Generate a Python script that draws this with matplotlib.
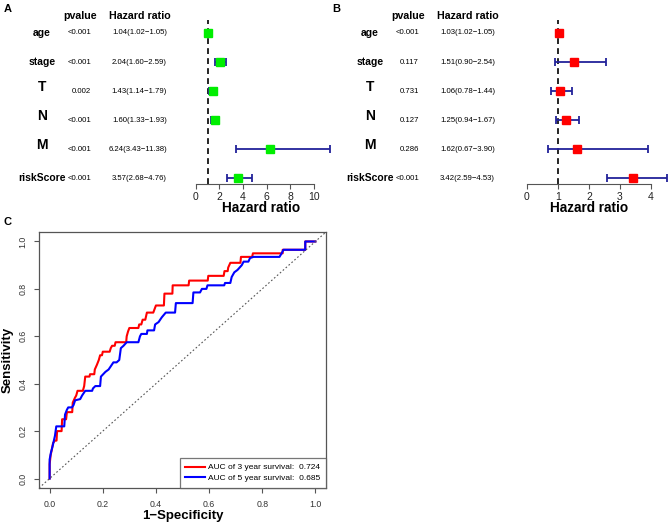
import matplotlib
matplotlib.use('Agg')
import matplotlib.pyplot as plt
import matplotlib.transforms as mtransforms

plt.rcParams['font.family'] = ['Liberation Sans', 'DejaVu Sans']

W, H = 669, 531

# forest plot data
variables = ['age', 'stage', 'T', 'N', 'M', 'riskScore']
pval_a = ['<0.001', '<0.001', '0.002', '<0.001', '<0.001', '<0.001']
hr_a = [1.04, 2.04, 1.43, 1.60, 6.24, 3.57]
lo_a = [1.02, 1.60, 1.14, 1.33, 3.43, 2.68]
hi_a = [1.05, 2.59, 1.79, 1.93, 11.38, 4.76]

pval_b = ['<0.001', '0.117', '0.731', '0.127', '0.286', '<0.001']
hr_b = [1.03, 1.51, 1.06, 1.25, 1.62, 3.42]
lo_b = [1.02, 0.90, 0.78, 0.94, 0.67, 2.59]
hi_b = [1.05, 2.54, 1.44, 1.67, 3.90, 4.53]

ticks_a = [0, 2, 4, 6, 8, 10]
ticks_b = [0, 1, 2, 3, 4]

# ROC curves (1-specificity, sensitivity)
roc3_x = [0, 0, 0.004, 0.008, 0.013, 0.02, 0.026, 0.028, 0.045, 0.047, 0.062, 0.065, 0.085, 0.087,
          0.095, 0.1, 0.105, 0.125, 0.13, 0.134, 0.15, 0.152, 0.168, 0.17, 0.178, 0.185, 0.19, 0.197,
          0.2, 0.226, 0.23, 0.235, 0.245, 0.248, 0.288, 0.29, 0.295, 0.3, 0.334, 0.337, 0.345, 0.35,
          0.36, 0.366, 0.39, 0.395, 0.4, 0.43, 0.432, 0.462, 0.463, 0.523, 0.525, 0.595, 0.597, 0.655,
          0.658, 0.67, 0.672, 0.68, 0.718, 0.72, 0.762, 0.765, 0.877, 0.877, 0.962, 0.962, 1.0]
roc3_y = [0, 0.06, 0.1, 0.12, 0.15, 0.16, 0.16, 0.2, 0.2, 0.25, 0.25, 0.28, 0.28, 0.32,
          0.34, 0.35, 0.37, 0.37, 0.39, 0.43, 0.43, 0.44, 0.44, 0.46, 0.48, 0.5, 0.52, 0.52,
          0.535, 0.535, 0.55, 0.56, 0.56, 0.575, 0.575, 0.6, 0.62, 0.635, 0.635, 0.65, 0.65, 0.67,
          0.67, 0.7, 0.7, 0.715, 0.73, 0.73, 0.78, 0.78, 0.815, 0.815, 0.835, 0.835, 0.855, 0.855,
          0.875, 0.875, 0.89, 0.91, 0.91, 0.935, 0.935, 0.95, 0.95, 0.965, 0.965, 1.0, 1.0]

roc5_x = [0, 0, 0.005, 0.012, 0.02, 0.025, 0.055, 0.058, 0.065, 0.07, 0.084, 0.09, 0.096, 0.115,
          0.122, 0.128, 0.134, 0.16, 0.163, 0.172, 0.19, 0.193, 0.21, 0.222, 0.234, 0.24, 0.252,
          0.262, 0.268, 0.278, 0.29, 0.334, 0.34, 0.345, 0.366, 0.368, 0.393, 0.397, 0.41, 0.422,
          0.437, 0.472, 0.475, 0.538, 0.541, 0.566, 0.573, 0.59, 0.594, 0.657, 0.66, 0.68, 0.685,
          0.695, 0.707, 0.723, 0.73, 0.748, 0.754, 0.767, 0.865, 0.873, 0.88, 0.962, 0.962, 1.0]
roc5_y = [0, 0.08, 0.11, 0.14, 0.18, 0.22, 0.22, 0.27, 0.29, 0.3, 0.3, 0.31, 0.33, 0.335,
          0.35, 0.36, 0.37, 0.37, 0.38, 0.39, 0.39, 0.43, 0.45, 0.46, 0.48, 0.49, 0.49,
          0.5, 0.55, 0.56, 0.575, 0.575, 0.6, 0.61, 0.61, 0.625, 0.625, 0.65, 0.66, 0.68,
          0.7, 0.7, 0.74, 0.74, 0.785, 0.785, 0.8, 0.8, 0.815, 0.815, 0.825, 0.825, 0.85,
          0.87, 0.88, 0.9, 0.915, 0.915, 0.93, 0.935, 0.935, 0.95, 0.965, 0.965, 1.0, 1.0]

auc3, auc5 = 0.724, 0.685

fig = plt.figure(figsize=(W / 100, H / 100), dpi=100)


def fx(px):
    return px / W


def fy(py):
    return 1 - py / H


def forest(x0, hr, lo, hi, pvals, ticks, xlim, color, label):
    # x0 = horizontal offset of the panel in pixels
    ax = fig.add_axes([fx(x0 + 190), fy(184), fx(150 if x0 == 0 else 154), (184 - 20) / H])
    n = len(variables)
    ys = list(range(n, 0, -1))
    ax.set_xlim(*xlim)
    ax.set_ylim(1 - 6 / 29, n + 13 / 29)
    ax.errorbar(hr, ys, xerr=[[h - l for h, l in zip(hr, lo)], [u - h for h, u in zip(hr, hi)]],
                fmt='none', ecolor='#22229a', elinewidth=1.3, capsize=3, capthick=1.3, zorder=2)
    ax.plot(hr, ys, 's', color=color, markersize=5.3, zorder=3)
    ax.axvline(1, color='black', ls=(0, (3.5, 2.5)), lw=1.2, zorder=1)
    for s in ['top', 'right', 'left']:
        ax.spines[s].set_visible(False)
    ax.spines['bottom'].set_bounds(ticks[0], ticks[-1])
    ax.spines['bottom'].set_color('#555555')
    ax.set_yticks([])
    ax.set_xticks(ticks)
    ax.tick_params(axis='x', direction='out', length=3.5, width=0.8, color='#555555',
                   labelsize=7.5, pad=2, labelcolor='#222222')
    ax.patch.set_alpha(0)

    tr = mtransforms.blended_transform_factory(fig.transFigure, ax.transData)
    for name, y, p, h, l, u in zip(variables, ys, pvals, hr, lo, hi):
        big = name in ('T', 'N', 'M')
        ax.text(fx(x0 + 42), y + (0.14 if big else 0), name, transform=tr, ha='center',
                va='center', fontsize=10 if big else 7.5, fontweight='bold')
        ax.text(fx(x0 + 91), y, p, transform=tr, ha='right', va='center', fontsize=5.6)
        ax.text(fx(x0 + 167), y, f'{h:.2f}({l:.2f}\u2212{u:.2f})', transform=tr,
                ha='right', va='center', fontsize=5.6)
    fig.text(fx(x0 + 80), fy(16), 'pvalue', ha='center', va='center', fontsize=7.7, fontweight='bold')
    fig.text(fx(x0 + 140), fy(16), 'Hazard ratio', ha='center', va='center', fontsize=7.7,
             fontweight='bold')
    fig.text(fx(x0 + 261), fy(208), 'Hazard ratio', ha='center', va='center', fontsize=9.8,
             fontweight='bold')
    fig.text(fx(x0 + 8), fy(9), label, ha='center', va='center', fontsize=8, fontweight='bold')
    return ax


forest(0, hr_a, lo_a, hi_a, pval_a, ticks_a, (-6 / 12.3, 150 / 12.3), '#00ee00', 'A')
forest(328, hr_b, lo_b, hi_b, pval_b, ticks_b, (-9 / 31, 145 / 31), '#ff0000', 'B')

# ROC panel
axc = fig.add_axes([fx(39), fy(488), fx(326 - 39), (488 - 232) / H])
axc.plot(roc3_x, roc3_y, color='#ff0000', lw=1.5, label=f'AUC of 3 year survival:  {auc3:.3f}')
axc.plot(roc5_x, roc5_y, color='#0000ff', lw=1.5, label=f'AUC of 5 year survival:  {auc5:.3f}')
axc.axline((0, 0), (1, 1), color='#555555', ls=(0, (1.5, 2)), lw=0.8)
axc.set_xlim(-0.04, 1.04)
axc.set_ylim(-0.04, 1.04)
ticks_c = [0.0, 0.2, 0.4, 0.6, 0.8, 1.0]
axc.set_xticks(ticks_c)
axc.set_yticks(ticks_c)
axc.set_xticklabels([f'{t:.1f}' for t in ticks_c])
axc.set_yticklabels([f'{t:.1f}' for t in ticks_c], rotation=90, va='center')
axc.tick_params(direction='out', length=3.5, width=0.8, color='#555555', labelsize=6.3,
                labelcolor='#333333', pad=5)
for s in axc.spines.values():
    s.set_color('#555555')
    s.set_linewidth(0.9)
axc.set_xlabel('1\u2212Specificity', fontsize=9.5, fontweight='bold', labelpad=1)
axc.set_ylabel('Sensitivity', fontsize=9.5, fontweight='bold', labelpad=3)
leg = axc.legend(loc='lower right', fontsize=6, frameon=True, fancybox=False,
                 borderaxespad=0, handlelength=2.4, handletextpad=0.3, borderpad=0.7,
                 labelspacing=0.35)
leg.get_frame().set_edgecolor('#555555')
leg.get_frame().set_linewidth(0.9)
fig.text(fx(8), fy(222), 'C', ha='center', va='center', fontsize=8, fontweight='bold')

fig.savefig('out.png', dpi=100)
